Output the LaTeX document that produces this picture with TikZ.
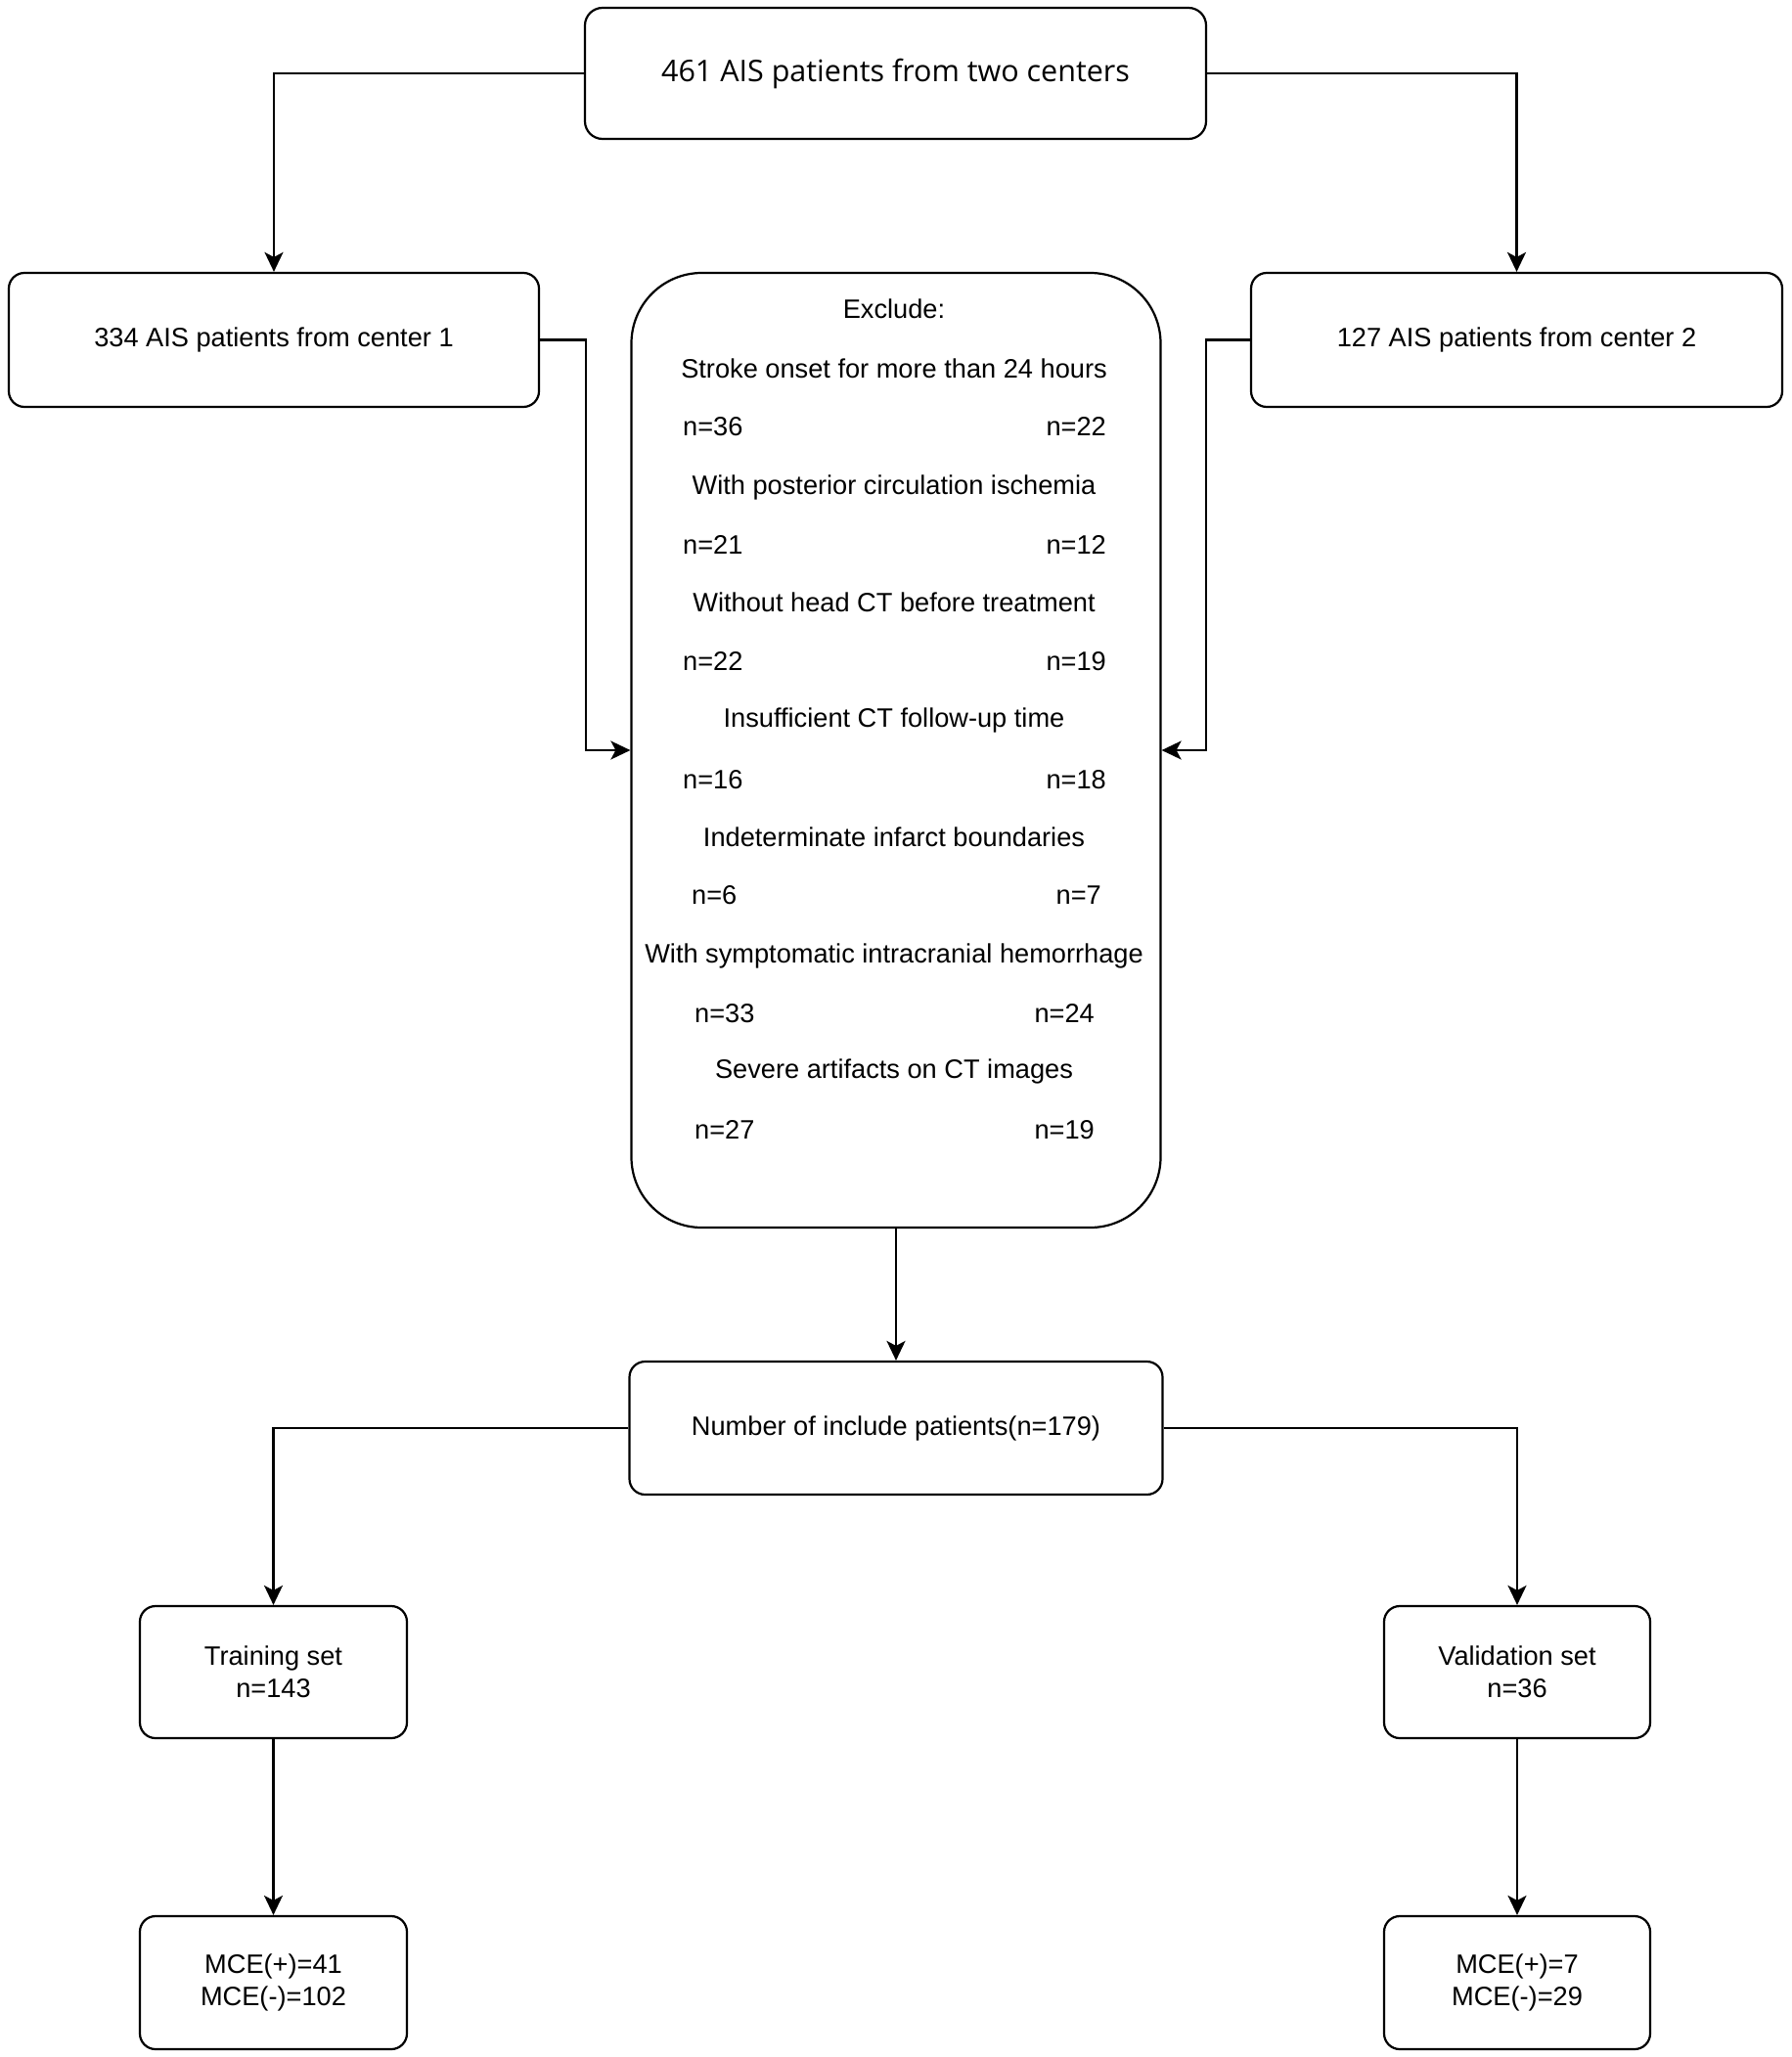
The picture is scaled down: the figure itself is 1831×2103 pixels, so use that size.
\documentclass[tikz,border=0pt]{standalone}
\usepackage{fontspec}
\setmainfont{Liberation Sans}
\newfontfamily\topfont{Open Sans}
\usetikzlibrary{arrows.meta}
\begin{document}
\begin{tikzpicture}[x=1pt,y=-1pt,
  every node/.style={font=\fontsize{27.2}{33}\selectfont, text=black},
  box/.style={draw, line width=2.2pt, rounded corners=16pt, minimum width=#1, align=center, inner sep=0pt},
  lbl/.style={inner sep=0pt},
  arr/.style={line width=2.2pt, -{Stealth[length=20pt,width=19pt,inset=5pt]}},
  con/.style={line width=2.2pt}]
\useasboundingbox (0,0) rectangle (1831,2103);
\fill[white] (0,0) rectangle (1831,2103);

\node[box=635pt, minimum height=134pt, rounded corners=18pt] (top) at (915.5,75) {\topfont\fontsize{30.5}{36}\selectfont 461 AIS patients from two centers};
\node[box=542pt, minimum height=137pt] (c1) at (280,347.5) {334 AIS patients from center 1};
\node[box=543pt, minimum height=137pt] (c2) at (1550.5,347.5) {127 AIS patients from center 2};
\node[box=541pt, minimum height=976pt, rounded corners=72pt] (excl) at (916,767) {};

\node[lbl] (ex0) at (914,316) {Exclude:};
\node[lbl] (ex1) at (914,377) {Stroke onset for more than 24 hours};
\node[lbl,anchor=west] (n1a) at (698,436) {n=36};
\node[lbl,anchor=east] (n1b) at (1131,436) {n=22};
\node[lbl] (ex2) at (914,498) {With posterior circulation ischemia};
\node[lbl,anchor=west] (n2a) at (698,557) {n=21};
\node[lbl,anchor=east] (n2b) at (1131,557) {n=12};
\node[lbl] (ex3) at (914,616) {Without head CT before treatment};
\node[lbl,anchor=west] (n3a) at (698,676) {n=22};
\node[lbl,anchor=east] (n3b) at (1131,676) {n=19};
\node[lbl] (ex4) at (914,736) {Insufficient CT follow-up time};
\node[lbl,anchor=west] (n4a) at (698,797) {n=16};
\node[lbl,anchor=east] (n4b) at (1131,797) {n=18};
\node[lbl] (ex5) at (914,856) {Indeterminate infarct boundaries};
\node[lbl,anchor=west] (n5a) at (707,915) {n=6};
\node[lbl,anchor=east] (n5b) at (1126,915) {n=7};
\node[lbl] (ex6) at (914,977) {With symptomatic intracranial hemorrhage};
\node[lbl,anchor=west] (n6a) at (710,1036) {n=33};
\node[lbl,anchor=east] (n6b) at (1119,1036) {n=24};
\node[lbl] (ex7) at (914,1095) {Severe artifacts on CT images};
\node[lbl,anchor=west] (n7a) at (710,1155) {n=27};
\node[lbl,anchor=east] (n7b) at (1119,1155) {n=19};

\node[box=545pt, minimum height=136pt] (inc) at (916,1460) {Number of include patients(n=179)};
\node[box=273pt, minimum height=135pt] (train) at (279.5,1709.5) {Training set\\n=143};
\node[box=272pt, minimum height=135pt] (val) at (1551,1709.5) {Validation set\\n=36};
\node[box=273pt, minimum height=136pt] (m1) at (279.5,2027) {MCE(+)=41\\MCE(-)=102};
\node[box=272pt, minimum height=136pt] (m2) at (1551,2027) {MCE(+)=7\\MCE(-)=29};

\draw[arr] (top.west) -| (c1.north);
\draw[arr] (top.east) -| (c2.north);
\draw[arr] (c1.east) -- ++(47,0) |- (excl.west);
\draw[arr] (c2.west) -- ++(-45,0) |- (excl.east);
\draw[arr] (excl.south) -- (inc.north);
\draw[arr] (inc.west) -| (train.north);
\draw[arr] (inc.east) -| (val.north);
\draw[arr] (train.south) -- (m1.north);
\draw[arr] (val.south) -- (m2.north);
\end{tikzpicture}
\end{document}
